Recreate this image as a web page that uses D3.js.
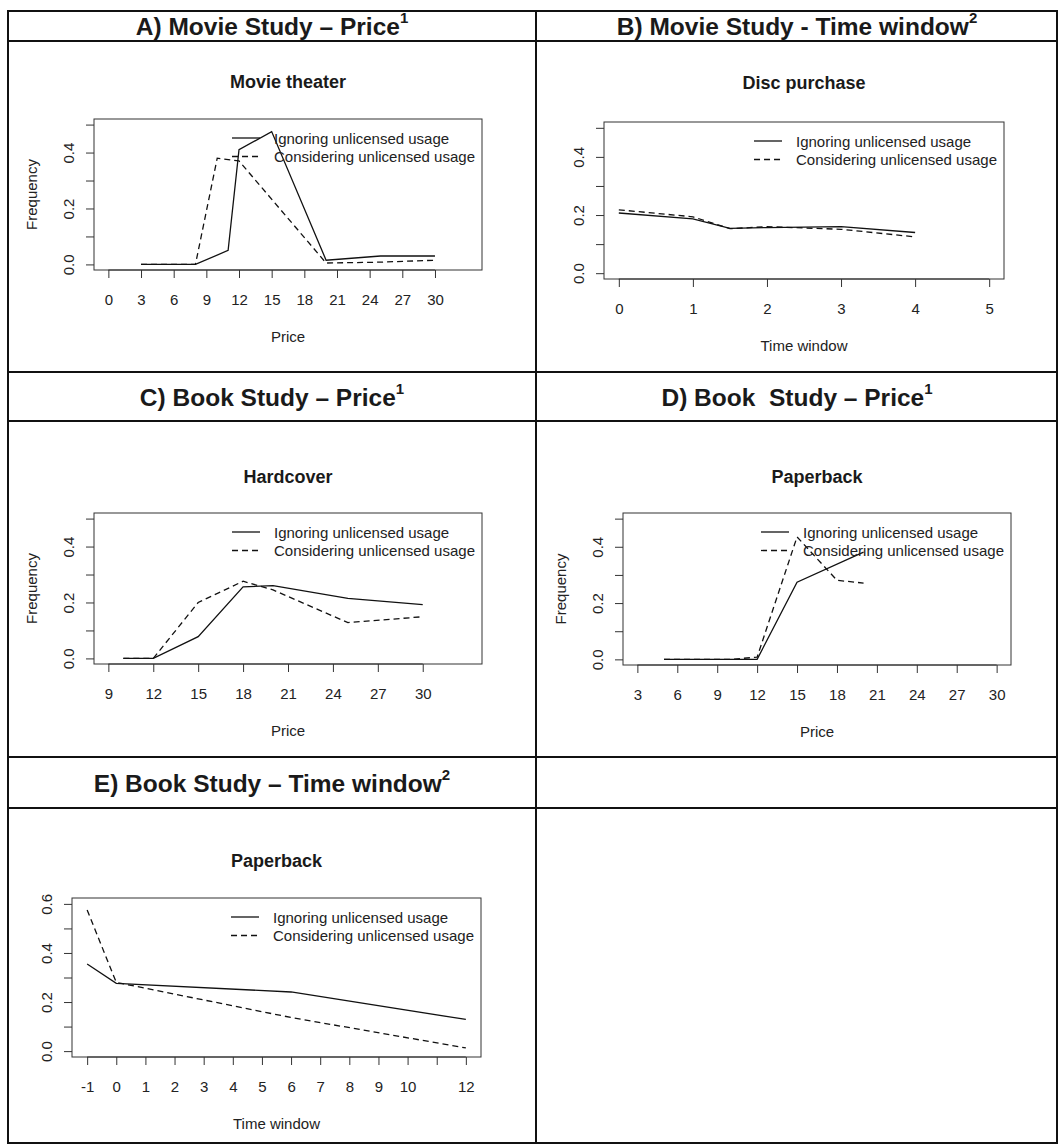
<!DOCTYPE html>
<html lang="en">
<head>
<meta charset="utf-8" />
<title>Demand curves: movie and book studies</title>
<script src="https://d3js.org/d3.v7.min.js"></script>
<style>
    body { margin: 0; background: #fff; }
    svg { display: block; font-family: "Liberation Sans", Arial, Helvetica, sans-serif; }
    .grid-line { stroke: #111; stroke-width: 2; }
    .hdr { font-size: 24.5px; font-weight: bold; fill: #1a1a1a; white-space: pre; }
    .ptitle { font-size: 18px; font-weight: bold; fill: #1a1a1a; }
    .lbl { font-size: 15px; fill: #222; stroke: none; }
    .frame { fill: none; stroke: #333; stroke-width: 1; }
    .tk { stroke: #333; stroke-width: 1; }
    .series { fill: none; stroke: #111; stroke-width: 1.3; }
</style>
</head>
<body>
<svg width="1059" height="1147"></svg>

<script>
    // legend entries
    const seriesNames = ["Ignoring unlicensed usage", "Considering unlicensed usage"];

    // A) movie theater, price
    const movieIgnPrice = [3, 8, 11, 12, 15, 20, 25, 30];
    const movieIgnFreq = [0, 0, 0.05, 0.41, 0.475, 0.015, 0.03, 0.03];
    const movieConPrice = [3, 8, 10, 12, 20, 25, 30];
    const movieConFreq = [0, 0, 0.38, 0.37, 0.005, 0.008, 0.015];
    const movieXTicks = [0, 3, 6, 9, 12, 15, 18, 21, 24, 27, 30];

    // B) disc purchase, time window
    const discWindow = [0, 1, 1.5, 2, 3, 4];
    const discIgnFreq = [0.207, 0.187, 0.154, 0.157, 0.16, 0.14];
    const discConFreq = [0.218, 0.194, 0.153, 0.16, 0.151, 0.125];
    const discXTicks = [0, 1, 2, 3, 4, 5];

    // C) hardcover, price
    const hardPrice = [10, 12, 15, 18, 20, 25, 30];
    const hardIgnFreq = [0, 0, 0.078, 0.256, 0.26, 0.215, 0.192];
    const hardConFreq = [0, 0, 0.2, 0.276, 0.245, 0.128, 0.149];
    const hardXTicks = [9, 12, 15, 18, 21, 24, 27, 30];

    // D) paperback, price
    const paperIgnPrice = [5, 12, 15, 20];
    const paperIgnFreq = [0, 0, 0.274, 0.381];
    const paperConPrice = [5, 10, 12, 15, 18, 20];
    const paperConFreq = [0, 0, 0.008, 0.435, 0.281, 0.271];
    const paperXTicks = [3, 6, 9, 12, 15, 18, 21, 24, 27, 30];

    // E) paperback, time window
    const paperWindow = [-1, 0, 6, 12];
    const paperWinIgnFreq = [0.355, 0.276, 0.241, 0.129];
    const paperWinConFreq = [0.575, 0.28, 0.137, 0.013];
    const paperWinXTicks = [-1, 0, 1, 2, 3, 4, 5, 6, 7, 8, 9, 10, 11, 12];
    const paperWinXLabels = ["-1", "0", "1", "2", "3", "4", "5", "6", "7", "8", "9", "10", "", "12"];

    const freqTicks = [0, 0.1, 0.2, 0.3, 0.4, 0.5];
    const freqTicksE = [0, 0.1, 0.2, 0.3, 0.4, 0.5, 0.6];

    const headers = [
        { x: 272, y: 26, text: "A) Movie Study \u2013 Price", sup: "1" },
        { x: 797, y: 26, text: "B) Movie Study - Time window", sup: "2" },
        { x: 272, y: 397, text: "C) Book Study \u2013 Price", sup: "1" },
        { x: 797, y: 397, text: "D) Book  Study \u2013 Price", sup: "1" },
        { x: 272, y: 783, text: "E) Book Study \u2013 Time window", sup: "2" }
    ];

    const pair = (xs, ys) => xs.map((x, i) => [x, ys[i]]);

    const panels = [
        { title: "Movie theater", titleY: 82, box: [94, 119, 482, 270], xlim: [0, 33], ylim: [0, 0.5],
          xticks: movieXTicks, yticks: freqTicks, xlab: "Price", ylab: "Frequency",
          lines: [pair(movieIgnPrice, movieIgnFreq), pair(movieConPrice, movieConFreq)] },
        { title: "Disc purchase", titleY: 83, box: [604, 122, 1004, 279], xlim: [0, 5], ylim: [0, 0.5],
          xticks: discXTicks, yticks: freqTicks, xlab: "Time window", ylab: null,
          lines: [pair(discWindow, discIgnFreq), pair(discWindow, discConFreq)] },
        { title: "Hardcover", titleY: 477, box: [94, 513, 482, 664], xlim: [9, 33], ylim: [0, 0.5],
          xticks: hardXTicks, yticks: freqTicks, xlab: "Price", ylab: "Frequency",
          lines: [pair(hardPrice, hardIgnFreq), pair(hardPrice, hardConFreq)] },
        { title: "Paperback", titleY: 477, box: [623, 513, 1011, 665], xlim: [3, 30], ylim: [0, 0.5],
          xticks: paperXTicks, yticks: freqTicks, xlab: "Price", ylab: "Frequency",
          lines: [pair(paperIgnPrice, paperIgnFreq), pair(paperConPrice, paperConFreq)] },
        { title: "Paperback", titleY: 861, box: [72, 898, 481, 1057], xlim: [-1, 12], ylim: [0, 0.6],
          xticks: paperWinXTicks, xlabels: paperWinXLabels, yticks: freqTicksE, xlab: "Time window", ylab: null,
          lines: [pair(paperWindow, paperWinIgnFreq), pair(paperWindow, paperWinConFreq)] }
    ];

    const svg = d3.select("svg");
    svg.append("rect").attr("width", 1059).attr("height", 1147).attr("fill", "#fff");

    // table grid
    const grid = svg.append("g");
    const L = 8, R = 1057, T = 11, B = 1143, MID = 536;
    [T, 41, 372, 421, 757, 808, B].forEach(y => {
        grid.append("line").attr("class", "grid-line").attr("x1", L - 1).attr("x2", R + 1).attr("y1", y).attr("y2", y);
    });
    [L, MID, R].forEach(x => {
        grid.append("line").attr("class", "grid-line").attr("x1", x).attr("x2", x).attr("y1", T).attr("y2", B);
    });

    headers.forEach(h => {
        const t = svg.append("text").attr("class", "hdr")
            .attr("x", h.x).attr("y", h.y)
            .attr("text-anchor", "middle").attr("dominant-baseline", "central");
        t.append("tspan").text(h.text);
        t.append("tspan").attr("font-size", "15px").attr("dy", "-9").text(h.sup);
    });

    const dashes = [null, "6,4"];

    panels.forEach(p => {
        const [x0, y0, x1, y1] = p.box;
        const ex = (p.xlim[1] - p.xlim[0]) * 0.04;
        const ey = (p.ylim[1] - p.ylim[0]) * 0.04;
        const x = d3.scaleLinear().domain([p.xlim[0] - ex, p.xlim[1] + ex]).range([x0, x1]);
        const y = d3.scaleLinear().domain([p.ylim[0] - ey, p.ylim[1] + ey]).range([y1, y0]);
        const g = svg.append("g");

        g.append("text").attr("class", "ptitle")
            .attr("x", (x0 + x1) / 2).attr("y", p.titleY)
            .attr("text-anchor", "middle").attr("dominant-baseline", "central")
            .text(p.title);

        // data lines
        const line = d3.line().x(d => x(d[0])).y(d => y(d[1]));
        p.lines.forEach((pts, i) => {
            g.append("path").attr("class", "series")
                .attr("d", line(pts))
                .attr("stroke-dasharray", dashes[i]);
        });

        g.append("rect").attr("class", "frame")
            .attr("x", x0).attr("y", y0).attr("width", x1 - x0).attr("height", y1 - y0);

        // x axis
        const xa = g.append("g").attr("transform", `translate(0,${y1})`)
            .call(d3.axisBottom(x).tickValues(p.xticks).tickSize(8).tickPadding(0)
                .tickFormat((d, i) => p.xlabels ? p.xlabels[i] : d));
        xa.select(".domain").remove();
        xa.selectAll(".tick line").attr("class", "tk");
        xa.append("line").attr("class", "tk")
            .attr("x1", x(p.xticks[0])).attr("x2", x(p.xticks[p.xticks.length - 1]));
        xa.selectAll(".tick text").attr("class", "lbl").attr("y", 29)
            .attr("dy", null).attr("dominant-baseline", "central");

        // y axis, labels on every other tick
        const ya = g.append("g").attr("transform", `translate(${x0},0)`)
            .call(d3.axisLeft(y).tickValues(p.yticks).tickSize(8)
                .tickFormat((d, i) => i % 2 === 0 ? d3.format(".1f")(d) : ""));
        ya.select(".domain").remove();
        ya.selectAll(".tick line").attr("class", "tk");
        ya.selectAll(".tick text").attr("class", "lbl")
            .attr("x", null).attr("dy", null)
            .attr("text-anchor", "middle").attr("dominant-baseline", "central")
            .attr("transform", "translate(-26,0) rotate(-90)");

        g.append("text").attr("class", "lbl")
            .attr("x", (x0 + x1) / 2).attr("y", y1 + 66)
            .attr("text-anchor", "middle").attr("dominant-baseline", "central")
            .text(p.xlab);

        if (p.ylab) {
            g.append("text").attr("class", "lbl")
                .attr("transform", `translate(${x0 - 63},${(y0 + y1) / 2}) rotate(-90)`)
                .attr("text-anchor", "middle").attr("dominant-baseline", "central")
                .text(p.ylab);
        }

        // legend, top right inside the box, no frame
        const leg = g.append("g");
        const labels = seriesNames.map((s, i) => leg.append("text").attr("class", "lbl")
            .attr("y", y0 + 19 + i * 18.5).attr("dominant-baseline", "central").text(s));
        const w = d3.max(labels, t => t.node().getComputedTextLength());
        const tx = x1 - 7 - w;
        labels.forEach(t => t.attr("x", tx));
        seriesNames.forEach((s, i) => {
            leg.append("line").attr("class", "series")
                .attr("x1", tx - 42).attr("x2", tx - 14)
                .attr("y1", y0 + 19 + i * 18.5).attr("y2", y0 + 19 + i * 18.5)
                .attr("stroke-dasharray", dashes[i]);
        });
    });
</script>
</body>
</html>
